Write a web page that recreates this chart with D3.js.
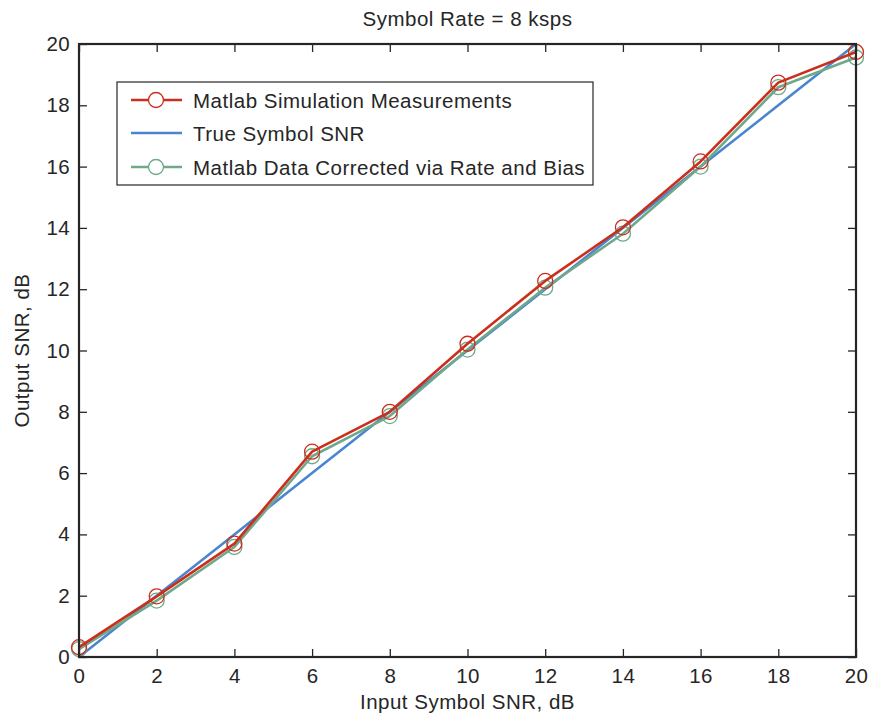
<!DOCTYPE html>
<html lang="en">
<head>
<meta charset="utf-8">
<title>Symbol Rate = 8 ksps</title>
<script src="https://d3js.org/d3.v7.min.js"></script>
<style>
  body { margin: 0; background: #fff; }
  svg { display: block; font-family: "Liberation Sans", Arial, sans-serif; }
  .tick text { font-size: 20.5px; letter-spacing: 0.4px; fill: #262626; }
  .lbl { font-size: 20.5px; letter-spacing: 0.5px; fill: #262626; }
</style>
</head>
<body>
<svg width="874" height="717"></svg>
<script>
// data
const inputSnr = [0, 2, 4, 6, 8, 10, 12, 14, 16, 18, 20];
const measured = [0.32, 1.98, 3.70, 6.70, 8.00, 10.22, 12.27, 14.02, 16.17, 18.74, 19.74];
const trueSnr = [0, 2, 4, 6, 8, 10, 12, 14, 16, 18, 20];
const corrected = [0.26, 1.84, 3.59, 6.55, 7.86, 10.03, 12.05, 13.81, 16.0, 18.59, 19.56];
const xTicks = [0, 2, 4, 6, 8, 10, 12, 14, 16, 18, 20];
const yTicks = [0, 2, 4, 6, 8, 10, 12, 14, 16, 18, 20];

const seriesList = [
  {name: "True Symbol SNR", vals: trueSnr, color: "#4a86cf", marker: false},
  {name: "Matlab Data Corrected via Rate and Bias", vals: corrected, color: "#6fa88a", marker: true},
  {name: "Matlab Simulation Measurements", vals: measured, color: "#cc2e1c", marker: true}
];
const legendOrder = [2, 0, 1];

const svg = d3.select("svg");
const pL = 79, pR = 856, pT = 44, pB = 657;

const x = d3.scaleLinear().domain([0, 20]).range([pL, pR]);
const y = d3.scaleLinear().domain([0, 20]).range([pB, pT]);

// lines
const line = d3.line().x((d, i) => x(inputSnr[i])).y(d => y(d));

const plot = svg.append("g");

seriesList.forEach(s => {
  plot.append("path")
    .datum(s.vals)
    .attr("d", line)
    .attr("fill", "none")
    .attr("stroke", s.color)
    .attr("stroke-width", 2.6)
    .attr("stroke-linejoin", "round");
  if (s.marker) {
    plot.selectAll(null)
      .data(s.vals)
      .enter()
      .append("circle")
      .attr("cx", (d, i) => x(inputSnr[i]))
      .attr("cy", d => y(d))
      .attr("r", 7.5)
      .attr("fill", "none")
      .attr("stroke", s.color)
      .attr("stroke-width", 1.3);
  }
});

// axes, ticks inward on all 4 sides
const ax = "#262626";
svg.append("g")
  .attr("transform", "translate(0," + pB + ")")
  .call(d3.axisBottom(x).tickValues(xTicks).tickSize(-8).tickPadding(11).tickFormat(d3.format("d")))
  .call(g => g.select(".domain").remove());
svg.append("g")
  .attr("transform", "translate(0," + pT + ")")
  .call(d3.axisTop(x).tickValues(xTicks).tickSize(-8).tickFormat(""))
  .call(g => g.select(".domain").remove());
svg.append("g")
  .attr("transform", "translate(" + pL + ",0)")
  .call(d3.axisLeft(y).tickValues(yTicks).tickSize(-8).tickPadding(9).tickFormat(d3.format("d")))
  .call(g => g.select(".domain").remove());
svg.append("g")
  .attr("transform", "translate(" + pR + ",0)")
  .call(d3.axisRight(y).tickValues(yTicks).tickSize(-8).tickFormat(""))
  .call(g => g.select(".domain").remove());

svg.selectAll(".tick line").attr("stroke", ax).attr("stroke-width", 1.3);
svg.selectAll(".tick text").attr("fill", ax);

svg.append("rect")
  .attr("x", pL).attr("y", pT)
  .attr("width", pR - pL).attr("height", pB - pT)
  .attr("fill", "none").attr("stroke", ax).attr("stroke-width", 2.2);

// titles
svg.append("text").attr("class", "lbl")
  .attr("x", (pL + pR) / 2).attr("y", 26)
  .attr("text-anchor", "middle").text("Symbol Rate = 8 ksps");
svg.append("text").attr("class", "lbl")
  .attr("x", (pL + pR) / 2).attr("y", 709)
  .attr("text-anchor", "middle").text("Input Symbol SNR, dB");
svg.append("text").attr("class", "lbl")
  .attr("transform", "translate(29," + (pT + pB) / 2 + ") rotate(-90)")
  .attr("text-anchor", "middle").text("Output SNR, dB");

// legend
const lg = svg.append("g");
lg.append("rect")
  .attr("x", 117).attr("y", 82).attr("width", 476).attr("height", 103)
  .attr("fill", "#fff").attr("stroke", ax).attr("stroke-width", 1.2);
const rowY = [100, 133, 167];
legendOrder.forEach((si, k) => {
  const s = seriesList[si];
  lg.append("line")
    .attr("x1", 131).attr("x2", 182).attr("y1", rowY[k]).attr("y2", rowY[k])
    .attr("stroke", s.color).attr("stroke-width", 2.6);
  if (s.marker) {
    lg.append("circle").attr("cx", 156).attr("cy", rowY[k]).attr("r", 7.5)
      .attr("fill", "#fff").attr("stroke", s.color).attr("stroke-width", 1.3);
  }
  lg.append("text").attr("class", "lbl")
    .attr("x", 193).attr("y", rowY[k] + 7.5).text(s.name);
});
</script>
</body>
</html>
